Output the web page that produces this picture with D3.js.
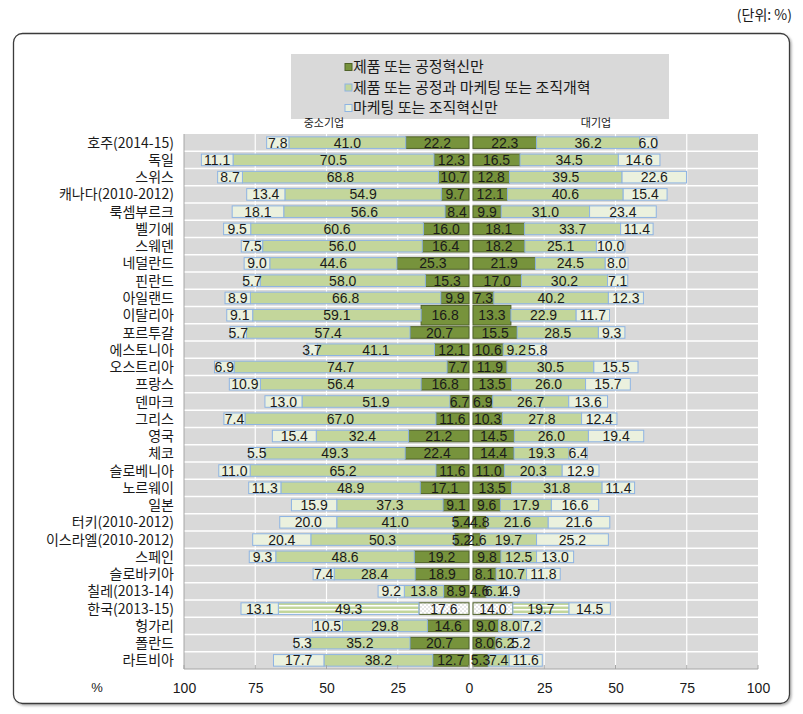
<!DOCTYPE html>
<html><head><meta charset="utf-8">
<script src="https://cdn.jsdelivr.net/npm/d3@7"></script>
<style>
html,body{margin:0;padding:0;background:#fff;}
svg{display:block;}
text{font-family:"Liberation Sans",Arial,sans-serif;fill:#1a1a1a;}
.kr{font-family:"Noto Sans CJK KR","Liberation Sans",sans-serif;}
</style></head>
<body>
<script>
// ---- data ----
const countries = ["호주(2014-15)","독일","스위스","캐나다(2010-2012)","룩셈부르크","벨기에","스웨덴","네덜란드","핀란드","아일랜드","이탈리아","포르투갈","에스토니아","오스트리아","프랑스","덴마크","그리스","영국","체코","슬로베니아","노르웨이","일본","터키(2010-2012)","이스라엘(2010-2012)","스페인","슬로바키아","칠레(2013-14)","한국(2013-15)","헝가리","폴란드","라트비아"];
// SME (중소기업)
const smeProduct = [22.2,12.3,10.7,9.7,8.4,16.0,16.4,25.3,15.3,9.9,16.8,20.7,12.1,7.7,16.8,6.7,11.6,21.2,22.4,11.6,17.1,9.1,5.4,5.2,19.2,18.9,8.9,17.6,14.6,20.7,12.7];
const smeBoth    = [41.0,70.5,68.8,54.9,56.6,60.6,56.0,44.6,58.0,66.8,59.1,57.4,41.1,74.7,56.4,51.9,67.0,32.4,49.3,65.2,48.9,37.3,41.0,50.3,48.6,28.4,13.8,49.3,29.8,35.2,38.2];
const smeMarket  = [7.8,11.1,8.7,13.4,18.1,9.5,7.5,9.0,5.7,8.9,9.1,5.7,3.7,6.9,10.9,13.0,7.4,15.4,5.5,11.0,11.3,15.9,20.0,20.4,9.3,7.4,9.2,13.1,10.5,5.3,17.7];
// Large firms (대기업)
const largeProduct = [22.3,16.5,12.8,12.1,9.9,18.1,18.2,21.9,17.0,7.3,13.3,15.5,10.6,11.9,13.5,6.9,10.3,14.5,14.4,11.0,13.5,9.6,4.8,2.6,9.8,8.1,4.6,14.0,9.0,8.0,5.3];
const largeBoth    = [36.2,34.5,39.5,40.6,31.0,33.7,25.1,24.5,30.2,40.2,22.9,28.5,9.2,30.5,26.0,26.7,27.8,26.0,19.3,20.3,31.8,17.9,21.6,19.7,12.5,10.7,6.1,19.7,8.0,6.2,7.4];
const largeMarket  = [6.0,14.6,22.6,15.4,23.4,11.4,10.0,8.0,7.1,12.3,11.7,9.3,5.8,15.5,15.7,13.6,12.4,19.4,6.4,12.9,11.4,16.6,21.6,25.2,13.0,11.8,4.9,14.5,7.2,5.2,11.6];
const seriesNames = ["제품 또는 공정혁신만","제품 또는 공정과 마케팅 또는 조직개혁","마케팅 또는 조직혁신만"];
const tickValues = [0,25,50,75,100];

// ---- drawing ----
const W = 803, H = 714;
const svg = d3.select("body").append("svg").attr("width", W).attr("height", H);
const defs = svg.append("defs");
const f = defs.append("filter").attr("id","sh").attr("x","-5%").attr("y","-5%").attr("width","110%").attr("height","110%");
f.append("feDropShadow").attr("dx",1.5).attr("dy",1.5).attr("stdDeviation",1.2).attr("flood-color","#999").attr("flood-opacity",0.8);

const colFill = ["#77933C","#C3D69B","#EBF1DE"];
const colStroke = ["#4F6228","#8EB4E3","#8EB4E3"];

// patterns for the Korea row
const pStripe = defs.append("pattern").attr("id","stripe").attr("patternUnits","userSpaceOnUse").attr("width",8).attr("height",4);
pStripe.append("rect").attr("width",8).attr("height",4).attr("fill","#C3D69B");
pStripe.append("rect").attr("y",1).attr("width",8).attr("height",1.5).attr("fill","#fff");
const pCheck = defs.append("pattern").attr("id","check").attr("patternUnits","userSpaceOnUse").attr("width",4).attr("height",4);
pCheck.append("rect").attr("width",4).attr("height",4).attr("fill","#e8e8e8");
pCheck.append("rect").attr("width",2).attr("height",2).attr("fill","#fff");
pCheck.append("rect").attr("x",2).attr("y",2).attr("width",2).attr("height",2).attr("fill","#fff");

// frame
svg.append("rect").attr("x",13.5).attr("y",33.5).attr("width",776).attr("height",670)
  .attr("rx",9).attr("fill","#fff").attr("stroke","#3a3a3a").attr("stroke-width",1.3).attr("filter","url(#sh)");

svg.append("text").attr("class","kr").attr("x",792).attr("y",20).attr("text-anchor","end")
  .style("font-size","14px").text("(단위: %)");

const plotTop = 134, plotBottom = 669;
const xL = d3.scaleLinear().domain([0,100]).range([469,184]);
const xR = d3.scaleLinear().domain([0,100]).range([473,758]);
const y = d3.scaleBand().domain(countries).range([plotTop,plotBottom]).paddingInner(0.33).paddingOuter(0.165);

// plot background
svg.append("rect").attr("x",xL(100)).attr("y",plotTop).attr("width",xR(100)-xL(100)).attr("height",plotBottom-plotTop).attr("fill","#D9D9D9");

// vertical grid
const g = svg.append("g");
[25,50,75].forEach(v=>{
  g.append("line").attr("x1",xL(v)).attr("x2",xL(v)).attr("y1",plotTop).attr("y2",plotBottom).attr("stroke","#fff").attr("stroke-width",1.2);
  g.append("line").attr("x1",xR(v)).attr("x2",xR(v)).attr("y1",plotTop).attr("y2",plotBottom).attr("stroke","#fff").attr("stroke-width",1.2);
});
// horizontal separators
d3.range(1,countries.length).forEach(i=>{
  const yy = plotTop + (plotBottom-plotTop)/countries.length*i;
  g.append("line").attr("x1",xL(100)).attr("x2",xR(100)).attr("y1",yy).attr("y2",yy).attr("stroke","#fff").attr("stroke-width",1.5);
});
// center line
svg.append("line").attr("x1",471).attr("x2",471).attr("y1",plotTop).attr("y2",plotBottom+4).attr("stroke","#fff").attr("stroke-width",3);

// bars
const bars = svg.append("g");
const labels = svg.append("g");
countries.forEach((c,i)=>{
  const segL = [smeProduct[i], smeBoth[i], smeMarket[i]];
  const segR = [largeProduct[i], largeBoth[i], largeMarket[i]];
  const isKorea = c.startsWith("한국");
  const isItaly = c === "이탈리아";
  let acc = 0;
  segL.forEach((v,k)=>{
    const x0 = xL(acc+v), x1 = xL(acc);
    let yy = y(c), hh = y.bandwidth();
    if (isItaly && k===0){ yy = y(c)-4; hh = y.bandwidth()+8; }
    bars.append("rect").attr("x",x0).attr("y",yy).attr("width",x1-x0).attr("height",hh)
      .attr("fill", isKorea && k===0 ? "url(#check)" : isKorea && k===1 ? "url(#stripe)" : colFill[k])
      .attr("stroke",colStroke[k]).attr("stroke-width",1);
    labels.append("text").attr("x",(x0+x1)/2).attr("y",y(c)+y.bandwidth()/2).attr("dy","0.36em")
      .attr("text-anchor","middle").style("font-size","14px").text(v.toFixed(1));
    acc += v;
  });
  acc = 0;
  segR.forEach((v,k)=>{
    const x0 = xR(acc), x1 = xR(acc+v);
    let yy = y(c), hh = y.bandwidth();
    if (isItaly && k===0){ yy = y(c)-4; hh = y.bandwidth()+8; }
    bars.append("rect").attr("x",x0).attr("y",yy).attr("width",x1-x0).attr("height",hh)
      .attr("fill", isKorea && k===0 ? "url(#check)" : isKorea && k===1 ? "url(#stripe)" : colFill[k])
      .attr("stroke",colStroke[k]).attr("stroke-width",1);
    labels.append("text").attr("x",(x0+x1)/2).attr("y",y(c)+y.bandwidth()/2).attr("dy","0.36em")
      .attr("text-anchor","middle").style("font-size","14px").text(v.toFixed(1));
    acc += v;
  });
});

// country labels
svg.append("g").selectAll("text").data(countries).join("text")
  .attr("class","kr").attr("x",174).attr("y",d=>y(d)+y.bandwidth()/2).attr("dy","0.36em")
  .attr("text-anchor","end").style("font-size","14px").text(d=>d);

// axes
const axL = d3.axisBottom(xL).tickValues(tickValues).tickSize(0).tickPadding(14);
const axR = d3.axisBottom(xR).tickValues(tickValues.slice(1)).tickSize(0).tickPadding(14);
const gL = svg.append("g").attr("transform",`translate(0,${plotBottom})`).call(axL);
const gR = svg.append("g").attr("transform",`translate(0,${plotBottom})`).call(axR);
[gL,gR].forEach(a=>{ a.select(".domain").remove(); a.selectAll("text").style("font-size","14px").attr("fill","#1a1a1a").style("font-family","Liberation Sans, Arial, sans-serif"); });
// bottom axis line with small ticks
svg.append("line").attr("x1",xL(100)).attr("x2",xR(100)).attr("y1",plotBottom).attr("y2",plotBottom).attr("stroke","#A6A6A6");
tickValues.forEach(v=>{
  svg.append("line").attr("x1",xL(v)).attr("x2",xL(v)).attr("y1",plotBottom-4).attr("y2",plotBottom).attr("stroke","#A6A6A6");
  svg.append("line").attr("x1",xR(v)).attr("x2",xR(v)).attr("y1",plotBottom-4).attr("y2",plotBottom).attr("stroke","#A6A6A6");
});
svg.append("line").attr("x1",xL(100)).attr("x2",xL(100)).attr("y1",plotTop).attr("y2",plotBottom).attr("stroke","#A6A6A6");
svg.append("text").attr("x",97).attr("y",692).attr("text-anchor","middle").style("font-size","13px").text("%");

// legend
const lg = svg.append("g");
lg.append("rect").attr("x",291).attr("y",54).attr("width",378).attr("height",65).attr("fill","#D9D9D9");
seriesNames.forEach((s,k)=>{
  const yy = 67 + k*20.5;
  lg.append("rect").attr("x",345).attr("y",yy-3.5).attr("width",7).attr("height",7)
    .attr("fill",colFill[k]).attr("stroke",colStroke[k]).attr("stroke-width",1);
  lg.append("text").attr("class","kr").attr("x",353).attr("y",yy).attr("dy","0.36em")
    .style("font-size","15px").text(s);
});
svg.append("text").attr("class","kr").attr("x",324).attr("y",127).attr("text-anchor","middle").style("font-size","11px").text("중소기업");
svg.append("text").attr("class","kr").attr("x",596).attr("y",127).attr("text-anchor","middle").style("font-size","11px").text("대기업");
</script>
</body></html>
